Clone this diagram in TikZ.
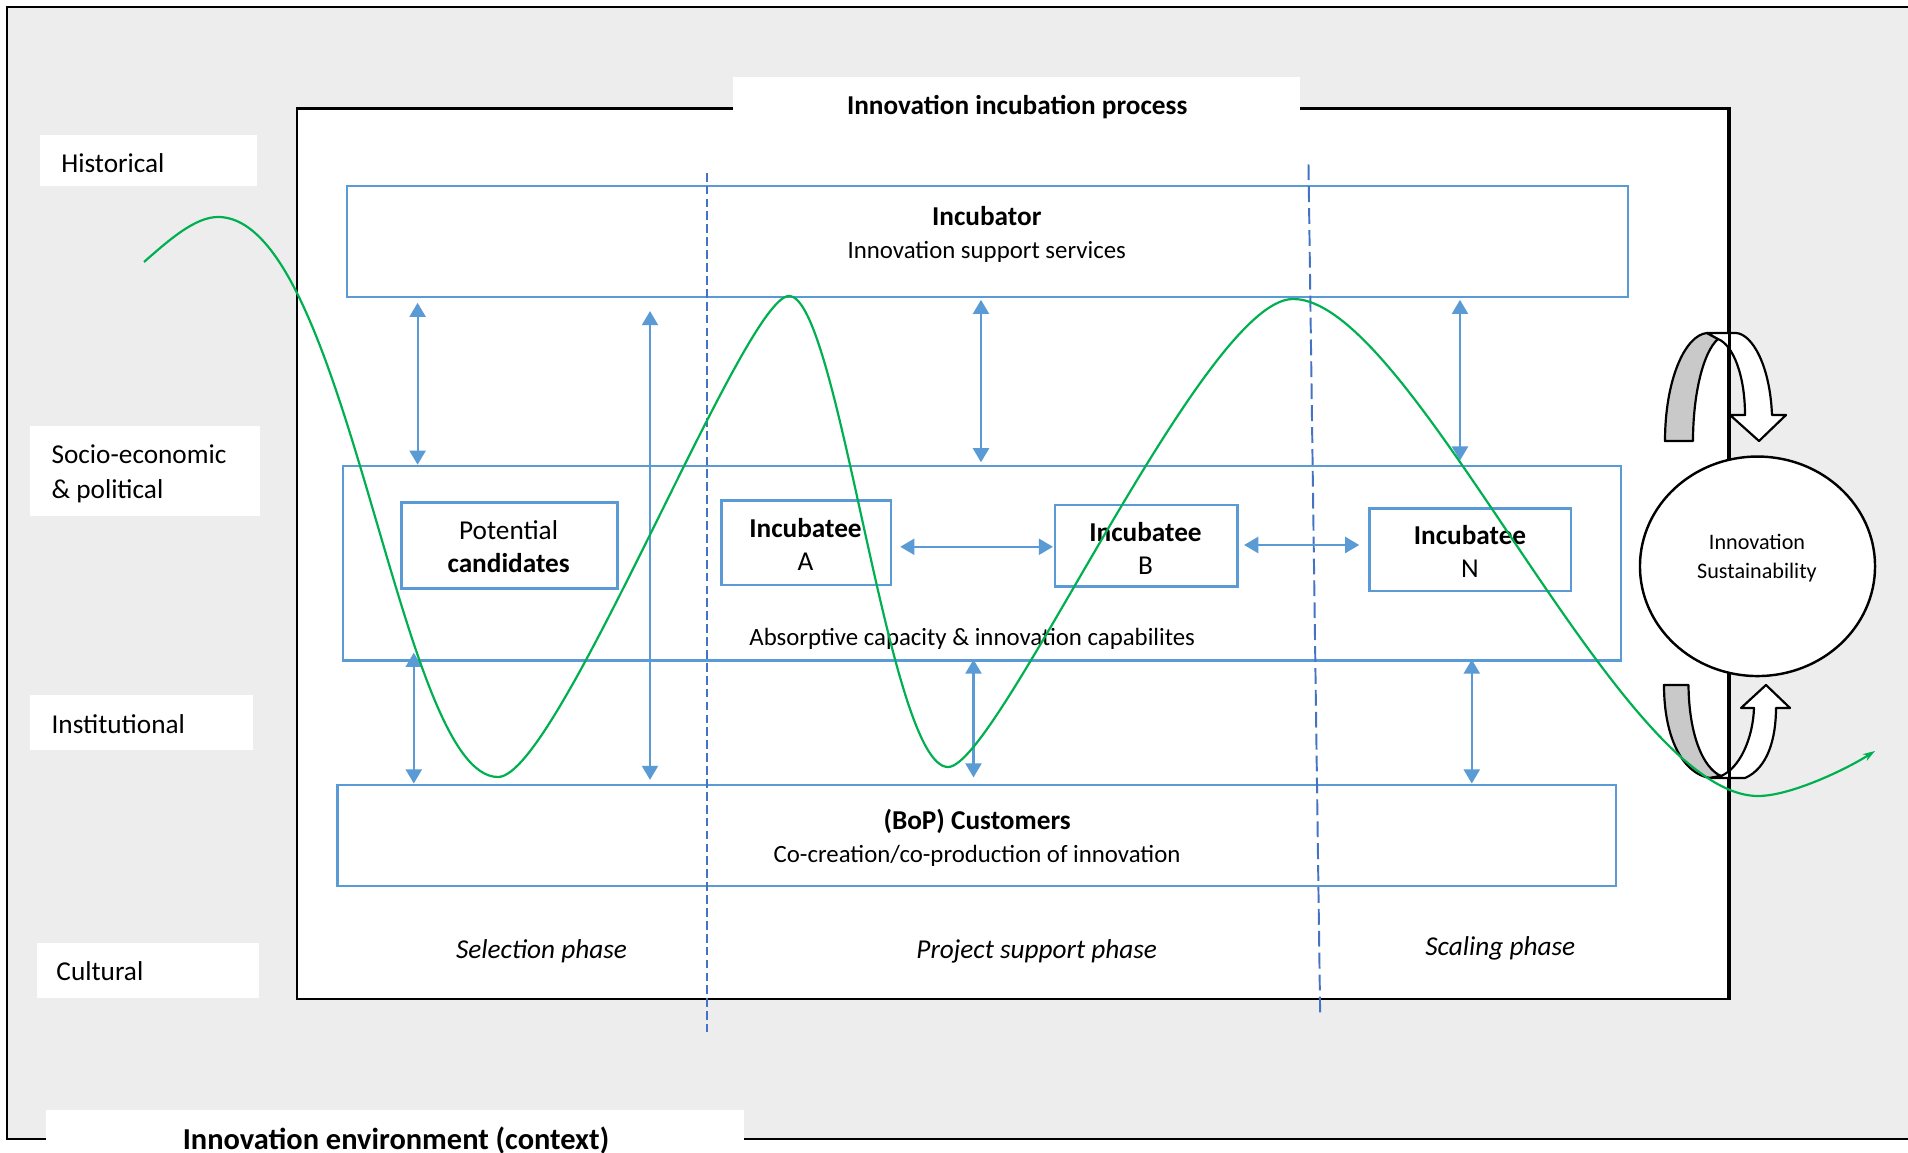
\documentclass[tikz,border=0pt]{standalone}
\usepackage{fontspec}
\setmainfont{Carlito}
\usetikzlibrary{arrows.meta,fit,shapes.geometric}
\definecolor{bggray}{HTML}{EDEDED}
\definecolor{boxblue}{HTML}{5B9BD5}
\definecolor{dashblue}{HTML}{4472C4}
\definecolor{curvegreen}{HTML}{00B050}
\definecolor{bandgray}{HTML}{C9C9C9}
\newcommand{\msize}{\fontsize{11.2}{13.5}\selectfont}
\newcommand{\ssize}{\fontsize{10.2}{13.5}\selectfont}
\begin{document}
\begin{tikzpicture}[x=0.4109pt,y=-0.4109pt,
  envframe/.style={draw=black,line width=1pt,fill=bggray,inner sep=0pt},
  procframe/.style={draw=black,line width=1.1pt,fill=white,inner sep=0pt},
  tab/.style={fill=white,draw=none,inner sep=0pt},
  bluebox/.style={draw=boxblue,line width=1.05pt,inner sep=0pt},
  txt/.style={inner sep=0pt,font=\msize},
  stxt/.style={inner sep=0pt,font=\ssize},
  btxt/.style={inner sep=0pt,font=\msize\bfseries},
  ptxt/.style={inner sep=0pt,font=\msize\itshape},
  biarrow/.style={draw=boxblue,line width=0.9pt,{Triangle[width=6.6pt,length=5.8pt]}-{Triangle[width=6.6pt,length=5.8pt]}},
  thindash/.style={draw=dashblue,line width=0.5pt,dash pattern=on 3.6pt off 1.7pt},
  thickdash/.style={draw=dashblue,line width=0.8pt,dash pattern=on 6.5pt off 2.5pt},
  band/.style={fill=bandgray,draw=black,line width=0.9pt,line join=round},
  turn/.style={fill=white,draw=black,line width=0.9pt,line join=round},
  trend/.style={draw=curvegreen,line width=0.9pt}
]
\useasboundingbox (0,0) rectangle (1908,1153);

% environment frame
\node[envframe,fit={(7,7)(1960,1139)}] (env) {};

% context labels
\node[tab,fit={(40.2,135.1)(256.7,186.2)}] (hist) {};
\node[txt,anchor=base west] (thist) at (60.8,172.2) {Historical};
\node[tab,fit={(30.4,425.9)(260.4,515.9)}] (socio) {};
\node[txt,anchor=west,align=left,font=\fontsize{11.2}{14.5}\selectfont] (tsocio) at (51.1,473.9) {Socio-economic\\\& political};
\node[tab,fit={(30.4,694.8)(253.1,749.5)}] (inst) {};
\node[txt,anchor=base west] (tinst) at (51.1,733.2) {Institutional};
\node[tab,fit={(36.5,943)(259.2,997.8)}] (cult) {};
\node[txt,anchor=base west] (tcult) at (56,980.5) {Cultural};

% incubation process frame
\node[procframe,fit={(296.9,108.3)(1727.9,999)}] (proc) {};
\node[tab,fit={(732.5,76.7)(1299.5,133.8)}] (ttab) {};
\node[btxt,anchor=base] (ttitle) at (1017.2,115) {Innovation incubation process};

% bottom context label
\node[tab,fit={(46.2,1109.7)(743.5,1170)}] (btab) {};
\node[inner sep=0pt,font=\fontsize{12.5}{15}\selectfont\bfseries,anchor=base] (btitle) at (396,1149.4) {Innovation environment (context)};

% blue boxes
\node[bluebox,fit={(346.8,186.2)(1628.1,296.9)}] (inc) {};
\node[btxt,anchor=base] (tinc1) at (986.8,226) {Incubator};
\node[stxt,anchor=base] (tinc2) at (986.8,258.5) {Innovation support services};
\node[bluebox,fit={(343.1,466)(1620.8,660.7)}] (mid) {};
\node[stxt,anchor=base] (tmid) at (972.2,645.6) {Absorptive capacity \& innovation capabilites};
\node[bluebox,fit={(401.5,502.5)(617.5,588.6)}] (cand) {};
\node[txt,align=center] (tcand) at (508.6,547) {Potential\\\textbf{candidates}};
\node[bluebox,fit={(721.6,500.5)(891,585.2)}] (incA) {};
\node[txt,align=center] (tincA) at (805.5,544.5) {\textbf{Incubatee}\\A};
\node[bluebox,fit={(1055.2,504.8)(1237.5,586.3)}] (incB) {};
\node[txt,align=center] (tincB) at (1145.5,548.2) {\textbf{Incubatee}\\B};
\node[bluebox,fit={(1369.5,508.7)(1571,591)}] (incN) {};
\node[txt,align=center] (tincN) at (1470,551.8) {\textbf{Incubatee}\\N};
\node[bluebox,fit={(337.5,784.8)(1615.9,885.8)}] (cust) {};
\node[btxt,anchor=base] (tcust1) at (977.1,829.5) {(BoP) Customers};
\node[stxt,anchor=base] (tcust2) at (977.1,862.3) {Co-creation/co-production of innovation};

% phase separators
\coordinate (d1a) at (707,172.8);
\coordinate (d1b) at (707,1031.8);
\coordinate (d2a) at (1308.5,164.3);
\coordinate (d2b) at (1320.2,1017.2);
\draw[thindash] (d1a) -- (d1b);
\draw[thickdash] (d2a) -- (d2b);

% vertical interaction arrows
\coordinate (xa) at (417.6,0);
\coordinate (xb) at (650,0);
\coordinate (xc) at (981,0);
\coordinate (xd) at (1460,0);
\coordinate (xe) at (413.8,0);
\coordinate (xf) at (973.5,0);
\coordinate (xg) at (1471.8,0);
\draw[biarrow,shorten <=1.9pt] (inc.south -| xa) -- (mid.north -| xa);
\draw[biarrow,shorten <=5.3pt,shorten >=1.5pt] (inc.south -| xb) -- (cust.north -| xb);
\draw[biarrow,shorten <=0.7pt,shorten >=1pt] (inc.south -| xc) -- (mid.north -| xc);
\draw[biarrow,shorten <=0.7pt,shorten >=1.7pt] (inc.south -| xd) -- (mid.north -| xd);
\draw[biarrow,shorten <=-3.8pt] (mid.south -| xe) -- (cust.north -| xe);
\draw[biarrow,shorten <=-1pt,shorten >=2.5pt] (mid.south -| xf) -- (cust.north -| xf);
\draw[biarrow,shorten <=-1pt] (mid.south -| xg) -- (cust.north -| xg);
% horizontal arrows
\coordinate (yh1) at (0,546.8);
\coordinate (yh2) at (0,545);
\draw[biarrow,shorten <=3.3pt,shorten >=0.4pt] (incA.east |- yh1) -- (incB.west |- yh1);
\draw[biarrow,shorten <=2.2pt,shorten >=3.7pt] (incB.east |- yh2) -- (incN.west |- yh2);

% phase labels
\node[ptxt,anchor=base] (ph1) at (541.5,958.3) {Selection phase};
\node[ptxt,anchor=base] (ph2) at (1036.7,958.3) {Project support phase};
\node[ptxt,anchor=base] (ph3) at (1500.3,955.9) {Scaling phase};

% circular arrows
\filldraw[band] (1665,441) .. controls (1665,380) and (1685,335) .. (1707,333) -- (1718,339) .. controls (1703,352) and (1693,395) .. (1693,441) -- cycle;
\filldraw[turn] (1707,333) -- (1736,333) .. controls (1752,334) and (1770,365) .. (1772,415) -- (1786,415) -- (1759,441) -- (1730,415) -- (1745,415) .. controls (1745,375) and (1733,345) .. (1718,339) -- cycle;
\filldraw[band] (1664,685) -- (1688.5,685) .. controls (1689,735) and (1703,768) .. (1721,776) -- (1710,778) .. controls (1684,774) and (1664,740) .. (1664,685) -- cycle;
\filldraw[turn] (1710,778) -- (1745,778) .. controls (1768,768) and (1776,738) .. (1776,708) -- (1790,708) -- (1766,685) -- (1741,708) -- (1754,708) .. controls (1753,738) and (1740,768) .. (1721,776) -- cycle;
\draw[line width=1.1pt] (proc.north east) -- (proc.south east);

% sustainability circle
\node[ellipse,draw=black,line width=1pt,fill=white,minimum width=96.6pt,minimum height=90.2pt,inner sep=0pt] (sus) at (1757.5,566.3) {};
\node[inner sep=0pt,align=center,font=\fontsize{9.1}{12}\selectfont] (tsus) at (1757,558.5) {Innovation\\Sustainability};

% innovation trajectory
\draw[trend,-{Stealth[length=5pt,width=3.2pt]}]
  (144,262) .. controls (169,240) and (195,217) .. (218,217)
  .. controls (348,217) and (398,777) .. (498,777)
  .. controls (558,777) and (744,296) .. (789,296)
  .. controls (839,296) and (888,767) .. (948,767)
  .. controls (998,767) and (1203,299) .. (1293,299)
  .. controls (1413,299) and (1618,796) .. (1758,796)
  .. controls (1790,796) and (1845,770) .. (1875,751);
\end{tikzpicture}
\end{document}
